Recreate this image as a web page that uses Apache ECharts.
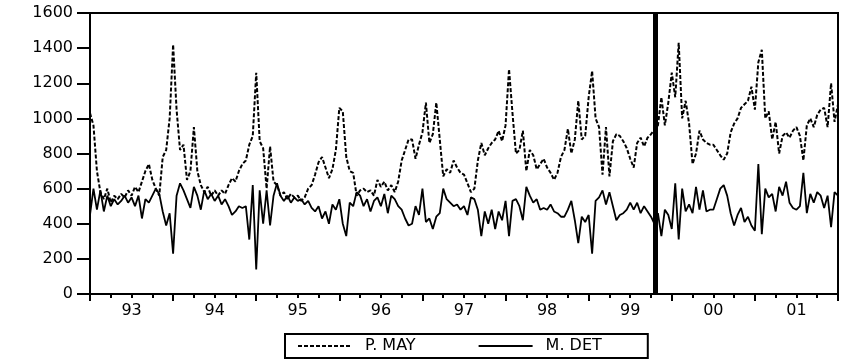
<!DOCTYPE html>
<html>
<head>
<meta charset="utf-8">
<title>P. MAY / M. DET</title>
<script src="https://cdn.jsdelivr.net/npm/echarts@6/dist/echarts.min.js"></script>
<style>
  html, body { margin: 0; padding: 0; background: #fff; }
  #chart { width: 841px; height: 360px; }
</style>
</head>
<body>
<div id="chart"></div>
<script>
// semi-monthly readings, first one at mid-1992
const startYear = 1992.5;
const stepYears = 1 / 24;

const pMay = [
  1030, 960, 700, 580, 540, 600, 520, 560, 540, 570, 550, 590, 560, 610, 580, 640, 700, 740, 650, 600, 560, 780, 820, 1000,
  1420, 1050, 820, 850, 650, 700, 950, 700, 620, 580, 610, 560, 590,
  560, 590, 570, 620, 660, 640, 700, 740, 760, 850, 900, 1260, 870, 830, 600, 840, 640, 620, 560, 580, 540, 570, 550, 560,
  530, 550, 600, 620, 680, 750, 780, 720, 660, 710, 820, 1060,
  1040, 780, 700, 690, 560, 590, 600, 580, 590, 560, 650, 610, 640, 590, 620, 580, 640, 760, 820, 880, 880, 770, 850, 920,
  1090, 860, 910, 1090, 880, 670, 710, 690, 760, 720, 690, 680,
  630, 580, 600, 760, 860, 790, 830, 860, 880, 930, 870, 960, 1280, 1030, 800, 820, 930, 700, 820, 790, 710, 740, 770, 720,
  690, 650, 690, 780, 820, 940, 800, 880, 1100, 880, 900, 1120,
  1270, 1000, 950, 680, 950, 670, 870, 910, 900, 870, 830, 770, 720, 860, 890, 840, 890, 910, 935, 960, 1120, 960, 1090, 1260,
  1120, 1430, 1000, 1100, 970, 740, 800, 930, 880, 860, 850, 850,
  820, 790, 765, 800, 920, 970, 1000, 1060, 1080, 1100, 1180, 1050, 1320, 1390, 1000, 1040, 880, 980, 800, 900, 920, 890, 930, 950,
  900, 760, 960, 1000, 950, 1020, 1050, 1060, 950, 1200, 980, 1080
];

const mDet = [
  450, 600, 480, 590, 470, 560, 500, 540, 510, 530, 560, 520, 550, 500, 560, 430, 540, 520, 560, 600, 570, 470, 390, 460,
  230, 560, 630, 590, 540, 490, 610, 560, 480, 590, 540, 570, 530,
  560, 510, 540, 500, 450, 470, 500, 490, 500, 310, 620, 140, 590, 400, 590, 390, 560, 630, 560, 530, 560, 520, 550, 530,
  540, 510, 530, 490, 470, 500, 430, 470, 400, 510, 480, 540,
  400, 330, 520, 500, 580, 560, 500, 540, 470, 530, 550, 500, 570, 460, 560, 540, 500, 480, 430, 390, 400, 500, 450, 600,
  410, 430, 370, 440, 460, 600, 540, 520, 500, 510, 480, 500,
  450, 550, 540, 480, 330, 470, 400, 480, 370, 470, 420, 530, 330, 530, 540, 500, 420, 610, 560, 520, 540, 480, 490, 480,
  510, 470, 460, 440, 440, 480, 530, 420, 290, 440, 410, 450,
  230, 530, 550, 590, 510, 580, 500, 420, 450, 460, 480, 520, 480, 520, 460, 500, 470, 440, 400, 460, 330, 480, 450, 370,
  630, 310, 600, 470, 510, 460, 610, 480, 590, 470, 480, 480,
  540, 600, 620, 560, 460, 390, 450, 490, 410, 440, 390, 360, 740, 340, 600, 550, 570, 470, 610, 560, 640, 520, 490, 480,
  500, 690, 460, 570, 520, 580, 560, 490, 560, 380, 580, 560
];

const yearLabels = ["93", "94", "95", "96", "97", "98", "99", "00", "01"];
const firstLabelYear = 1993;
const seriesNames = ["P. MAY", "M. DET"];
const breakYear = 1999.3;

const toPairs = (arr) => arr.map((v, i) => [startYear + i * stepYears, v]);

const FONT = "DejaVu Sans";
const chart = echarts.init(document.getElementById("chart"));

const option = {
  animation: false,
  backgroundColor: "#ffffff",
  grid: {
    left: 90,
    right: -1,
    top: 13,
    bottom: 66,
    show: true,
    borderColor: "#000",
    borderWidth: 2,
  },
  xAxis: [
    {
      type: "value",
      min: 1992.5,
      max: 2001.5,
      interval: 0.25,
      axisLine: { onZero: false, lineStyle: { color: "#000", width: 2 } },
      axisTick: { length: 4, lineStyle: { color: "#000", width: 2 } },
      axisLabel: {
        color: "#000",
        fontFamily: FONT,
        fontSize: 16,
        margin: 9,
        formatter: (v) => {
          const r = Math.round(v);
          return Math.abs(v - r) < 1e-6 ? yearLabels[r - firstLabelYear] || "" : "";
        },
      },
      splitLine: { show: false },
    },
    {
      // longer mid-year ticks
      type: "value",
      position: "bottom",
      min: 0,
      max: 9,
      interval: 1,
      axisLine: { show: false, onZero: false },
      axisTick: { length: 7, lineStyle: { color: "#000", width: 2 } },
      axisLabel: { show: false },
      splitLine: { show: false },
    },
  ],
  yAxis: {
    type: "value",
    min: 0,
    max: 1600,
    interval: 200,
    axisLine: { show: true, lineStyle: { color: "#000", width: 2 } },
    axisTick: { show: true, length: 13, lineStyle: { color: "#000", width: 2 } },
    axisLabel: {
      color: "#000",
      fontFamily: FONT,
      fontSize: 16,
      margin: 17,
      formatter: (v) => String(v),
    },
    splitLine: { show: false },
  },
  legend: {
    data: seriesNames,
    left: 285,
    bottom: 2,
    itemWidth: 54,
    itemHeight: 10,
    itemGap: 62,
    borderColor: "#000",
    borderWidth: 2,
    padding: [4, 46, 4, 12],
    itemStyle: { color: "transparent", borderWidth: 0 },
    textStyle: { color: "#000", fontFamily: FONT, fontSize: 16, padding: [0, 0, 0, 8] },
  },
  series: [
    {
      name: seriesNames[0],
      type: "line",
      data: toPairs(pMay),
      symbol: "none",
      lineStyle: { color: "#000", width: 2, type: [4, 2] },
      itemStyle: { color: "#000" },
      markLine: {
        silent: true,
        symbol: ["none", "none"],
        label: { show: false },
        lineStyle: { color: "#000", width: 5, type: "solid" },
        data: [{ xAxis: breakYear }],
      },
    },
    {
      name: seriesNames[1],
      type: "line",
      data: toPairs(mDet),
      symbol: "none",
      lineStyle: { color: "#000", width: 1.8, type: "solid" },
      itemStyle: { color: "#000" },
    },
  ],
};

chart.setOption(option);
</script>
</body>
</html>
